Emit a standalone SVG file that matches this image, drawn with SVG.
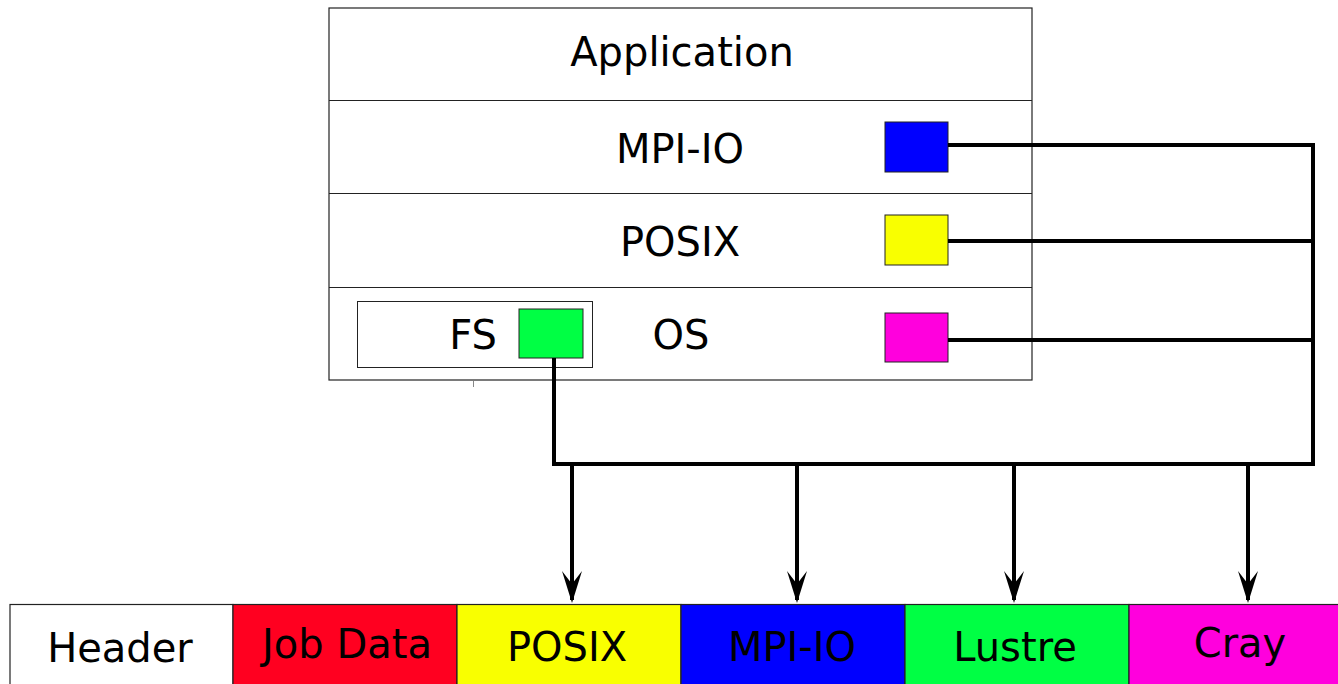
<svg xmlns="http://www.w3.org/2000/svg" width="1338" height="684" viewBox="0 0 1338 684">
  <defs>
    <style>
      text { font-family: "DejaVu Sans", "Liberation Sans", sans-serif; font-size: 40px; fill: #000; text-anchor: middle; }
      .layer { fill: #fff; stroke: #222; stroke-width: 1.2; }
      .tag { stroke: #222; stroke-width: 1; }
      .seg { stroke: #222; stroke-width: 1.2; }
      .wire { fill: none; stroke: #000; stroke-width: 4; stroke-linejoin: miter; stroke-linecap: square; }
      .drop { fill: none; stroke: #000; stroke-width: 4; stroke-linecap: butt; }
    </style>
    <marker id="arrow" viewBox="0 0 32 20" refX="29" refY="10" markerWidth="32" markerHeight="20" markerUnits="userSpaceOnUse" orient="auto">
      <path d="M32,10 L0,0 L13,10 L0,20 Z" fill="#000"/>
    </marker>
  </defs>

  <!-- software stack -->
  <g id="stack">
    <rect class="layer" x="329" y="8" width="703" height="372"/>
    <line class="seg" x1="329" y1="100.5" x2="1032" y2="100.5"/>
    <line class="seg" x1="329" y1="193.5" x2="1032" y2="193.5"/>
    <line class="seg" x1="329" y1="287.5" x2="1032" y2="287.5"/>
    <line x1="473.5" y1="381" x2="473.5" y2="387" stroke="#888" stroke-width="1"/>
  </g>
  <g id="application"><text x="682" y="66">Application</text></g>
  <g id="mpiio-layer">
    <text x="680" y="163">MPI-IO</text>
    <rect class="tag" x="885" y="122" width="63" height="50" fill="#0000ff"/>
  </g>
  <g id="posix-layer">
    <text x="680" y="256">POSIX</text>
    <rect class="tag" x="885" y="215" width="63" height="50" fill="#f9ff00"/>
  </g>
  <g id="os-layer">
    <text x="681" y="349">OS</text>
    <rect class="tag" x="885" y="313" width="63" height="49" fill="#ff00dd"/>
  </g>
  <g id="fs">
    <rect x="357.5" y="301.5" width="235" height="66" fill="#fff" stroke="#222" stroke-width="1"/>
    <text x="473" y="349">FS</text>
    <rect class="tag" x="519" y="309" width="64" height="49" fill="#00ff44"/>
  </g>

  <!-- connectors -->
  <g id="connectors">
    <path class="wire" d="M950,145 H1313 V464 H554 V360"/>
    <path class="wire" d="M950,241 H1313"/>
    <path class="wire" d="M950,340 H1313"/>
    <line class="drop" x1="572" y1="464" x2="572" y2="600" marker-end="url(#arrow)"/>
    <line class="drop" x1="797" y1="464" x2="797" y2="600" marker-end="url(#arrow)"/>
    <line class="drop" x1="1014" y1="464" x2="1014" y2="600" marker-end="url(#arrow)"/>
    <line class="drop" x1="1248" y1="464" x2="1248" y2="600" marker-end="url(#arrow)"/>
  </g>

  <!-- log record segments -->
  <g id="header">
    <rect class="seg" x="10" y="604.5" width="223" height="90" fill="#fff"/>
    <text x="120" y="662">Header</text>
  </g>
  <g id="job-data">
    <rect class="seg" x="233" y="604.5" width="224" height="90" fill="#ff0020"/>
    <text x="347" y="658">Job Data</text>
  </g>
  <g id="posix">
    <rect class="seg" x="457" y="604.5" width="224" height="90" fill="#f9ff00"/>
    <text x="567" y="661">POSIX</text>
  </g>
  <g id="mpiio">
    <rect class="seg" x="681" y="604.5" width="224" height="90" fill="#0000ff"/>
    <text x="792" y="661">MPI-IO</text>
  </g>
  <g id="lustre">
    <rect class="seg" x="905" y="604.5" width="224" height="90" fill="#00ff44"/>
    <text x="1015" y="661">Lustre</text>
  </g>
  <g id="cray">
    <rect class="seg" x="1129" y="604.5" width="220" height="90" fill="#ff00dd"/>
    <text x="1240" y="657">Cray</text>
  </g>
</svg>
